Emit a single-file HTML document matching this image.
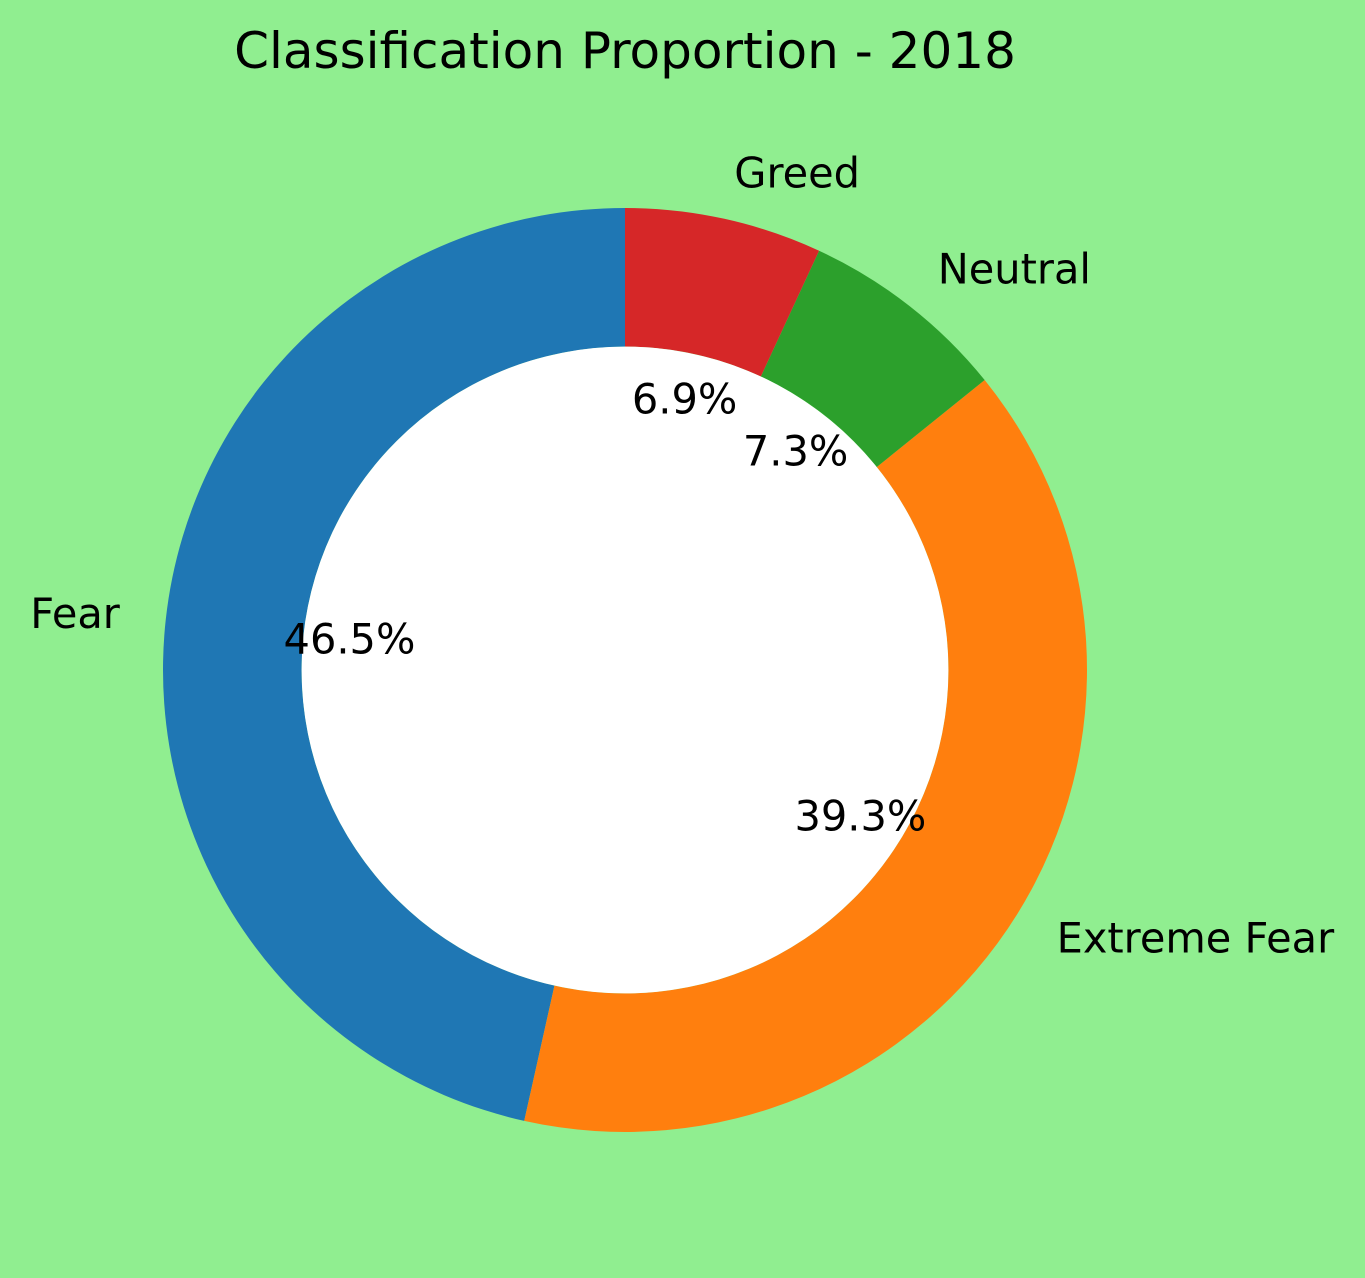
<!DOCTYPE html>
<html><head><meta charset="utf-8"><style>
html,body{margin:0;padding:0;background:#90ee90;}
svg{display:block;font-family:"DejaVu Sans","Liberation Sans",sans-serif;}
</style></head><body>
<svg id="chart" width="1365" height="1278" viewBox="0 0 1365 1278">
<rect width="1365" height="1278" fill="#90ee90"/>
<text x="625" y="68" text-anchor="middle" font-size="50" fill="#000">Classification Proportion - 2018</text>
<g id="slices"></g>
<circle cx="625" cy="670" r="323.4" fill="#ffffff"/>
<g id="labels"></g>
</svg>
<script>
const categories = ["Fear", "Extreme Fear", "Neutral", "Greed"];
const values = [46.5, 39.3, 7.3, 6.9];
const colors = ["#1f77b4", "#ff7f0e", "#2ca02c", "#d62728"];
const cx = 625, cy = 670, R = 462, r = R * 0.7;
const NS = "http://www.w3.org/2000/svg";
const total = values.reduce((a, b) => a + b, 0);
const gS = document.getElementById('slices'), gL = document.getElementById('labels');
function pt(rad, deg) { const a = deg * Math.PI / 180; return [cx + rad * Math.cos(a), cy - rad * Math.sin(a)]; }
let start = 90;
values.forEach((v, i) => {
  const sweep = v / total * 360, end = start + sweep;
  const [x1, y1] = pt(R, start), [x2, y2] = pt(R, end);
  const [x3, y3] = pt(r, end), [x4, y4] = pt(r, start);
  const large = sweep > 180 ? 1 : 0;
  const p = document.createElementNS(NS, 'path');
  p.setAttribute('d', `M${x1},${y1} A${R},${R} 0 ${large} 0 ${x2},${y2} L${x3},${y3} A${r},${r} 0 ${large} 1 ${x4},${y4} Z`);
  p.setAttribute('fill', colors[i]);
  
  
  gS.appendChild(p);
  const mid = start + sweep / 2;
  const [lx, ly] = pt(R * 1.1, mid);
  const t = document.createElementNS(NS, 'text');
  t.setAttribute('x', lx); t.setAttribute('y', ly + 14);
  t.setAttribute('font-size', '41.5');
  t.setAttribute('text-anchor', lx >= cx ? 'start' : 'end');
  t.textContent = categories[i];
  
  
  gL.appendChild(t);
  const [px, py] = pt(R * 0.6, mid);
  const q = document.createElementNS(NS, 'text');
  q.setAttribute('x', px); q.setAttribute('y', py + 14);
  q.setAttribute('font-size', '41.5');
  q.setAttribute('text-anchor', 'middle');
  q.textContent = v.toFixed(1) + '%';
  
  
  gL.appendChild(q);
  start = end;
});
</script>
</body></html>
